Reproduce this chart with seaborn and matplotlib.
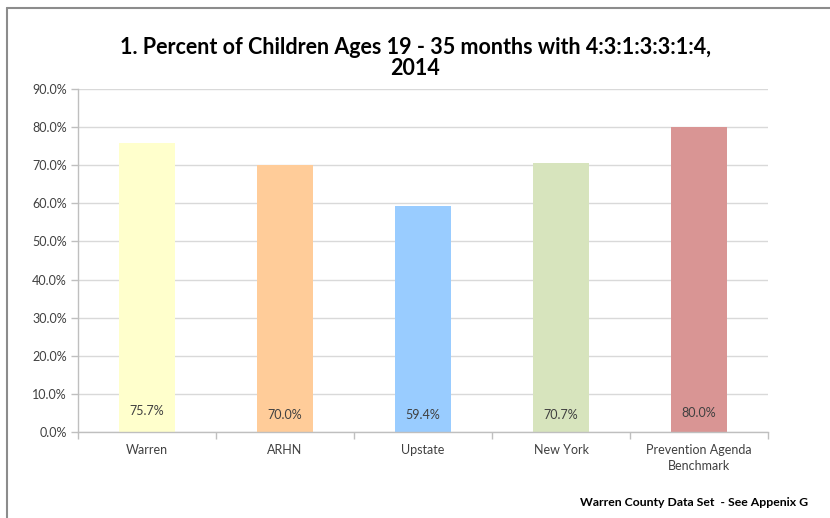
import matplotlib
matplotlib.use("Agg")
import matplotlib.pyplot as plt
from matplotlib.lines import Line2D
from matplotlib.ticker import FixedLocator, FuncFormatter
import seaborn as sns
import pandas as pd

categories = ["Warren", "ARHN", "Upstate", "New York", "Prevention Agenda\nBenchmark"]
percents = [75.7, 70.0, 59.4, 70.7, 80.0]
colors = ["#FFFFCC", "#FFCC99", "#99CCFF", "#D7E4BD", "#D99594"]
y_ticks = [0, 10, 20, 30, 40, 50, 60, 70, 80, 90]
title = "1. Percent of Children Ages 19 - 35 months with 4:3:1:3:3:1:4,\n2014"
source_note = "Warren County Data Set  - See Appenix G"

df = pd.DataFrame({"area": categories, "pct": percents})

sns.set_theme(style="white")
plt.rcParams["font.family"] = ["Lato", "DejaVu Sans"]

fig = plt.figure(figsize=(8.30, 5.18), dpi=100)
ax = fig.add_axes([78 / 830, 1 - 432 / 518, 690 / 830, (432 - 89) / 518])

sns.barplot(data=df, x="area", y="pct", hue="area", palette=colors,
            width=0.4, legend=False, ax=ax, saturation=1, edgecolor="none")

ax.set_ylim(0, 90)
ax.set_xlim(-0.5, 4.5)
ax.yaxis.set_major_locator(FixedLocator(y_ticks))
ax.yaxis.set_major_formatter(FuncFormatter(lambda v, p: f"{v:.1f}%"))
ax.grid(axis="y", color="#D9D9D9", linewidth=1.0)
ax.set_axisbelow(True)
ax.set_xlabel("")
ax.set_ylabel("")

for s in ["top", "right"]:
    ax.spines[s].set_visible(False)
for s in ["left", "bottom"]:
    ax.spines[s].set_color("#BFBFBF")
    ax.spines[s].set_linewidth(1.0)

ax.tick_params(axis="y", which="major", left=True, length=5, width=1,
               color="#BFBFBF", labelsize=9, labelcolor="#404040", pad=3)
ax.tick_params(axis="x", which="major", bottom=False, labelsize=9,
               labelcolor="#404040", pad=3)
for lbl in ax.get_xticklabels():
    lbl.set_linespacing(1.35)
ax.xaxis.set_minor_locator(FixedLocator([-0.5, 0.5, 1.5, 2.5, 3.5, 4.5]))
ax.tick_params(axis="x", which="minor", bottom=True, length=5, width=1,
               color="#BFBFBF")

# value labels sit near the base of each bar
label_y = [5.5, 4.5, 4.5, 4.4, 5.0]
for i, v in enumerate(percents):
    ax.text(i, label_y[i], f"{v:.1f}%", ha="center", va="center",
            fontsize=9, color="#404040")

fig.text(0.5, 1 - 58 / 518, title, ha="center", va="center",
         fontsize=15.5, fontweight="bold", color="#000000", linespacing=1.0)
fig.text(808 / 830, 1 - 503 / 518, source_note, ha="right", va="center",
         fontsize=8.8, fontweight="bold", color="#000000")

# frame lines along the top and left edges
fig.add_artist(Line2D([7 / 830, 1.0], [1 - 8 / 518, 1 - 8 / 518],
                      transform=fig.transFigure, color="#8C8C8C", linewidth=1.5))
fig.add_artist(Line2D([7 / 830, 7 / 830], [1 - 8 / 518, 0.0],
                      transform=fig.transFigure, color="#8C8C8C", linewidth=1.5))

fig.savefig("out.png", dpi=100, facecolor="white")
